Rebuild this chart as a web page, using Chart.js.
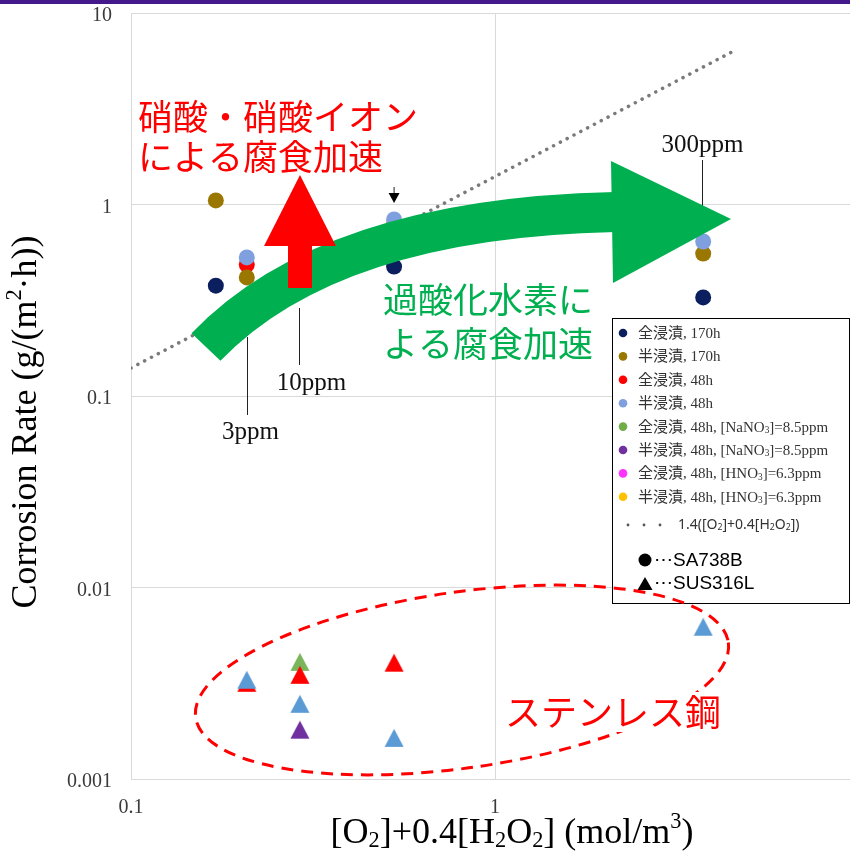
<!DOCTYPE html>
<html><head><meta charset="utf-8">
<script src="https://cdn.jsdelivr.net/npm/chart.js@4"></script>
<style>html,body{margin:0;padding:0;background:#fff;overflow:hidden}</style>
</head><body>
<canvas id="c" width="850" height="852"></canvas>
<script>
// ---- data ----
const xTicks = [0.1, 1];
const xTickLabels = ['0.1', '1'];
const yTicks = [0.001, 0.01, 0.1, 1, 10];
const yTickLabels = ['0.001', '0.01', '0.1', '1', '10'];

// SA738B (circles)
const full170h = [{x:0.171,y:0.377},{x:0.528,y:0.474},{x:3.73,y:0.327}];
const half170h = [{x:0.171,y:1.05},{x:0.208,y:0.416},{x:3.73,y:0.554}];
const full48h  = [{x:0.208,y:0.486},{x:0.528,y:0.787}];
const half48h  = [{x:0.208,y:0.529},{x:0.528,y:0.835},{x:3.73,y:0.641}];
// SUS316L (triangles)
const full48hSus = [{x:0.208,y:0.00318},{x:0.291,y:0.0035},{x:0.528,y:0.00405}];
const half48hSus = [{x:0.208,y:0.0033},{x:0.291,y:0.00247},{x:0.528,y:0.00164},{x:3.73,y:0.00624}];
const fullNaNO3Sus = [{x:0.291,y:0.00409}];
const halfNaNO3Sus = [{x:0.291,y:0.00181}];
// 1.4([O2]+0.4[H2O2]) line
const fitLine = [{x:0.1,y:0.14},{x:4.45,y:6.23}];

const legendNames = ['全浸漬, 170h','半浸漬, 170h','全浸漬, 48h','半浸漬, 48h',
  '全浸漬, 48h, [NaNO|3|]=8.5ppm','半浸漬, 48h, [NaNO|3|]=8.5ppm',
  '全浸漬, 48h, [HNO|3|]=6.3ppm','半浸漬, 48h, [HNO|3|]=6.3ppm'];
const legendColors = ['#0b1f5e','#9a7700','#ff0000','#7f9fdf','#70ad47','#7030a0','#ff33ff','#ffc000'];

// ---- helpers ----
function tri(color){
  const c=document.createElement('canvas'); c.width=20; c.height=20;
  const g=c.getContext('2d'); g.fillStyle=color; g.beginPath();
  g.moveTo(10,1); g.lineTo(19.5,19); g.lineTo(0.5,19); g.closePath(); g.fill(); return c;
}
function segs(str){ // "a|3|b" -> subscript, "a^3^b" -> superscript
  const out=[]; let mode='n', buf='';
  for (const ch of str){
    if (ch==='|'){ if(buf) out.push({t:buf,m:mode}); buf=''; mode = mode==='sub'?'n':'sub'; }
    else if (ch==='^'){ if(buf) out.push({t:buf,m:mode}); buf=''; mode = mode==='sup'?'n':'sup'; }
    else buf+=ch;
  }
  if(buf) out.push({t:buf,m:mode}); return out;
}
function richDraw(ctx, str, x, y, size, family, align){
  const ss=segs(str); let w=0;
  for(const s of ss){ ctx.font=(s.m==='n'?size:size*0.62)+'px '+family; s.w=ctx.measureText(s.t).width; w+=s.w; }
  let cx = align==='center'? x-w/2 : x;
  ctx.textAlign='left';
  for(const s of ss){
    ctx.font=(s.m==='n'?size:size*0.62)+'px '+family;
    const dy = s.m==='sub'? size*0.2 : s.m==='sup'? -size*0.32 : 0;
    ctx.fillText(s.t, cx, y+dy); cx+=s.w;
  }
}

const serif = '"Liberation Serif", "Noto Sans CJK JP", serif';
const jp = '"Noto Sans CJK JP", sans-serif';

const deco = {
  id:'deco',
  beforeDraw(chart){
    const ctx=chart.ctx; ctx.save();
    ctx.fillStyle='#fff'; ctx.fillRect(0,0,chart.width,chart.height);
    ctx.fillStyle='#45198c'; ctx.fillRect(0,0,chart.width,4);
    ctx.restore();
  },
  afterDatasetsDraw(chart){
    const ctx=chart.ctx, xs=chart.scales.x;
    ctx.save();
    // leader lines for ppm labels
    ctx.strokeStyle='#222'; ctx.lineWidth=1;
    const lead=(xv,y1,y2)=>{const px=Math.round(xs.getPixelForValue(xv))+0.5; ctx.beginPath(); ctx.moveTo(px,y1); ctx.lineTo(px,y2); ctx.stroke(); return px;};
    const p3=lead(0.208,337,415), p10=lead(0.29,308,365), p300=lead(3.7,160,226);
    // small arrow over point
    const pa=xs.getPixelForValue(0.528);
    ctx.beginPath(); ctx.moveTo(pa,187); ctx.lineTo(pa,194); ctx.stroke();
    ctx.fillStyle='#000'; ctx.beginPath(); ctx.moveTo(pa-5.5,193); ctx.lineTo(pa+5.5,193); ctx.lineTo(pa,203); ctx.closePath(); ctx.fill();
    // green curved arrow
    ctx.strokeStyle='#00b050'; ctx.fillStyle='#00b050'; ctx.lineWidth=40; ctx.lineCap='butt';
    ctx.beginPath(); ctx.moveTo(206,347); ctx.quadraticCurveTo(330,218,615,212); ctx.stroke();
    ctx.beginPath(); ctx.moveTo(611,161); ctx.lineTo(731,219); ctx.lineTo(613,283); ctx.closePath(); ctx.fill();
    // red up arrow
    ctx.fillStyle='#ff0000'; ctx.beginPath();
    ctx.moveTo(300,175); ctx.lineTo(336,246); ctx.lineTo(312,246); ctx.lineTo(312,288);
    ctx.lineTo(288,288); ctx.lineTo(288,246); ctx.lineTo(264,246); ctx.closePath(); ctx.fill();
    // texts
    ctx.textBaseline='middle'; ctx.textAlign='left';
    ctx.fillStyle='#ff0000'; ctx.font='35px '+jp;
    ctx.fillText('硝酸・硝酸イオン',138,117); ctx.fillText('による腐食加速',138,157);
    ctx.fillStyle='#00b050';
    ctx.fillText('過酸化水素に',383,300); ctx.fillText('よる腐食加速',383,344);
    ctx.fillStyle='#111'; ctx.font='25px '+serif; ctx.textAlign='center';
    ctx.fillText('3ppm',p3+3,432); ctx.fillText('10ppm',p10+12,383); ctx.fillText('300ppm',p300,145);
    // legend box
    ctx.textAlign='left';
    ctx.fillStyle='#fff'; ctx.fillRect(612,318,238,286);
    ctx.strokeStyle='#000'; ctx.lineWidth=1; ctx.strokeRect(612.5,318.5,237,285);
    for(let i=0;i<legendNames.length;i++){
      const y=333+i*23.4;
      ctx.fillStyle=legendColors[i]; ctx.beginPath(); ctx.arc(623,y,4.3,0,Math.PI*2); ctx.fill();
      ctx.fillStyle='#333'; richDraw(ctx,legendNames[i],638,y+1,15,serif,'left');
    }
    ctx.fillStyle='#555';
    for(const dx of [628,644,660]){ ctx.beginPath(); ctx.arc(dx,525,1.4,0,Math.PI*2); ctx.fill(); }
    ctx.fillStyle='#333'; richDraw(ctx,'1.4([O|2|]+0.4[H|2|O|2|])',678,525,14,'"Noto Sans", sans-serif','left');
    ctx.fillStyle='#000';
    ctx.beginPath(); ctx.arc(645,560,6.5,0,Math.PI*2); ctx.fill();
    ctx.beginPath(); ctx.moveTo(645,577); ctx.lineTo(652.5,590); ctx.lineTo(637.5,590); ctx.closePath(); ctx.fill();
    ctx.font='19px "Liberation Sans", sans-serif'; ctx.textAlign='left';
    ctx.fillText('\u22EFSA738B',654,561); ctx.fillText('\u22EFSUS316L',654,584);
    // dashed ellipse (over legend)
    ctx.strokeStyle='#ff0000'; ctx.lineWidth=3; ctx.setLineDash([12,8]);
    ctx.beginPath(); ctx.ellipse(462,680,269,88,-0.14,0,Math.PI*2); ctx.stroke(); ctx.setLineDash([]);
    // label with white backing
    ctx.font='36px '+jp; ctx.textBaseline='middle';
    const tw=ctx.measureText('ステンレス鋼').width;
    ctx.fillStyle='#fff'; ctx.fillRect(500,692,tw+10,40);
    ctx.fillStyle='#ff0000'; ctx.fillText('ステンレス鋼',505,712);
    ctx.restore();
  },
  afterDraw(chart){
    const ctx=chart.ctx; ctx.save(); ctx.fillStyle='#000'; ctx.textBaseline='middle';
    richDraw(ctx,'[O|2|]+0.4[H|2|O|2|] (mol/m^3^)',512,834,36,serif,'center');
    ctx.translate(27,422); ctx.rotate(-Math.PI/2);
    richDraw(ctx,'Corrosion Rate (g/(m^2^·h))',0,0,36,serif,'center');
    ctx.restore();
  }
};

const pt = (label,data,color,order,style)=>({label,data,order,type:'scatter',
  backgroundColor:color,borderColor:color,borderWidth:0,pointStyle:style||'circle',pointRadius:8});

new Chart(document.getElementById('c'),{
  type:'scatter',
  data:{datasets:[
    {label:'1.4([O2]+0.4[H2O2])',type:'line',data:fitLine,order:30,borderColor:'#7a7a7a',borderWidth:3.5,
     borderDash:[0.1,7.6],borderCapStyle:'round',pointRadius:0,fill:false},
    pt('全浸漬, 48h',full48h,'#ff0000',14),
    pt('全浸漬, 170h',full170h,'#0b1f5e',13),
    pt('半浸漬, 170h',half170h,'#9a7700',12),
    pt('半浸漬, 48h',half48h,'#7f9fdf',11),
    pt('全浸漬, 48h, [NaNO3]=8.5ppm (SUS316L)',fullNaNO3Sus,'#7ab55c',6,tri('#7ab55c')),
    pt('全浸漬, 48h (SUS316L)',full48hSus,'#ff0000',5,tri('#ff0000')),
    pt('半浸漬, 48h, [NaNO3]=8.5ppm (SUS316L)',halfNaNO3Sus,'#7030a0',4,tri('#7030a0')),
    pt('半浸漬, 48h (SUS316L)',half48hSus,'#5b9bd5',3,tri('#5b9bd5')),
  ]},
  options:{
    responsive:false, animation:false, events:[],
    layout:{autoPadding:false,padding:{top:13,left:0,right:0,bottom:0}},
    plugins:{legend:{display:false},tooltip:{enabled:false}},
    scales:{
      x:{type:'logarithmic',min:0.1,max:9.44,
        afterBuildTicks:s=>{s.ticks=xTicks.map(v=>({value:v}));},
        afterFit:s=>{s.height=73; s.paddingLeft=0; s.paddingRight=0;},
        grid:{color:'#d9d9d9',lineWidth:1,drawTicks:false},
        border:{color:'#d9d9d9'},
        ticks:{padding:17,color:'#3a3a3a',font:{family:'"Liberation Serif", serif',size:20},maxRotation:0,
          callback:(v)=>{const i=xTicks.indexOf(v); return i>=0?xTickLabels[i]:'';}}},
      y:{type:'logarithmic',min:0.001,max:10,
        afterBuildTicks:s=>{s.ticks=yTicks.map(v=>({value:v}));},
        afterFit:s=>{s.width=131; s.paddingTop=0; s.paddingBottom=0;},
        grid:{color:'#d9d9d9',lineWidth:1,drawTicks:false},
        border:{color:'#d9d9d9'},
        ticks:{padding:19,labelOffset:3,color:'#3a3a3a',font:{family:'"Liberation Serif", serif',size:20},
          callback:(v)=>{const i=yTicks.indexOf(v); return i>=0?yTickLabels[i]:'';}}}
    }
  },
  plugins:[deco]
});
</script>
</body></html>
